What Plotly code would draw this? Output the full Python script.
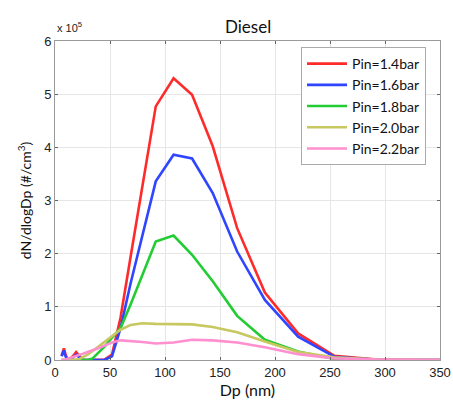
import plotly.graph_objects as go

# Particle diameter (nm)
dp = [6.0, 7.0, 8.1, 9.4, 10.8, 12.5, 14.4, 16.6, 19.2, 22.2, 25.6, 29.6, 34.2, 39.4, 45.0,
      51.8, 59.6, 68.8, 79.4, 91.6, 107.8, 124.6, 143.4, 165.6, 190.8, 221.0, 254.0, 293.0, 340.0, 390.0]

# dN/dlogDp in units of 1e5 #/cm^3
pin_14 = [0.08, 0.15, 0.22, 0.12, 0.04, 0.02, 0.03, 0.08, 0.15, 0.08, 0.0, 0.0, 0.0, 0.0, 0.01,
          0.1, 0.8, 1.95, 3.3, 4.77, 5.30, 4.99, 4.02, 2.48, 1.27, 0.50, 0.08, 0.01, 0.0, 0.0]
pin_16 = [0.07, 0.12, 0.18, 0.08, 0.02, 0.02, 0.02, 0.05, 0.10, 0.05, 0.0, 0.0, 0.0, 0.0, 0.0,
          0.07, 0.6, 1.45, 2.35, 3.36, 3.86, 3.79, 3.14, 2.04, 1.13, 0.44, 0.06, 0.005, 0.0, 0.0]
pin_18 = [0.0, 0.0, 0.0, 0.0, 0.0, 0.0, 0.0, 0.0, 0.0, 0.0, 0.0, 0.0, 0.03, 0.13, 0.25,
          0.42, 0.6, 1.05, 1.6, 2.23, 2.34, 1.98, 1.48, 0.83, 0.38, 0.16, 0.02, 0.0, 0.0, 0.0]
pin_20 = [0.0, 0.0, 0.0, 0.0, 0.01, 0.01, 0.01, 0.01, 0.01, 0.02, 0.05, 0.1, 0.17, 0.25, 0.35,
          0.45, 0.57, 0.66, 0.69, 0.68, 0.67, 0.67, 0.62, 0.52, 0.35, 0.15, 0.05, 0.01, 0.0, 0.0]
pin_22 = [0.0, 0.0, 0.0, 0.01, 0.02, 0.03, 0.04, 0.06, 0.08, 0.1, 0.12, 0.15, 0.18, 0.22, 0.27,
          0.33, 0.37, 0.36, 0.34, 0.31, 0.33, 0.38, 0.37, 0.33, 0.24, 0.11, 0.03, 0.01, 0.0, 0.0]

names = ["Pin=1.4bar", "Pin=1.6bar", "Pin=1.8bar", "Pin=2.0bar", "Pin=2.2bar"]
series = [pin_14, pin_16, pin_18, pin_20, pin_22]
colors = ["#ff2b2b", "#2f45ff", "#22cc33", "#c8c860", "#ff8fcf"]

x_ticks = [0, 50, 100, 150, 200, 250, 300, 350]
y_ticks = [0, 1, 2, 3, 4, 5, 6]

fig = go.Figure()
for n, s, c in zip(names, series, colors):
    fig.add_trace(go.Scatter(x=dp, y=s, mode="lines", name=n,
                             line=dict(color=c, width=2.6)))

sans = "Lato, Open Sans, sans-serif"
label_font = dict(family=sans, size=16, color="#111")
tick_font = dict(family="Liberation Sans, Arial, sans-serif", size=13, color="#222")

fig.update_layout(
    width=453, height=402,
    margin=dict(l=55, r=13, t=41, b=42),
    paper_bgcolor="white", plot_bgcolor="white",
    showlegend=True,
    legend=dict(x=0.639, y=0.981, xanchor="left", yanchor="top",
                bgcolor="white", bordercolor="#aaaaaa", borderwidth=1,
                font=dict(family=sans, size=14, color="#111"),
                tracegroupgap=0, itemwidth=40),
    xaxis=dict(range=[0, 350], tickvals=x_ticks, ticktext=[str(v) for v in x_ticks],
               automargin=False,
               showgrid=True, gridcolor="#e6e6e6", gridwidth=1, zeroline=False,
               showline=True, linecolor="#9a9a9a", linewidth=1, mirror="ticks",
               ticks="inside", ticklen=3, tickcolor="#666",
               tickfont=tick_font,
               title=dict(text="Dp (nm)", font=label_font, standoff=3)),
    yaxis=dict(range=[0, 6], tickvals=y_ticks, ticktext=[str(v) for v in y_ticks],
               automargin=False,
               showgrid=True, gridcolor="#e6e6e6", gridwidth=1, zeroline=False,
               showline=True, linecolor="#9a9a9a", linewidth=1, mirror="ticks",
               ticks="inside", ticklen=3, tickcolor="#666",
               tickfont=tick_font,
               title=dict(text="dN/dlogDp (#/cm<sup>3</sup>)",
                          font=dict(family=sans, size=14, color="#111"), standoff=9)),
    annotations=[
        dict(text="Diesel", xref="paper", yref="paper", x=0.5, y=1.0,
             xanchor="center", yanchor="bottom", yshift=2, showarrow=False,
             font=dict(family=sans, size=17, color="#111")),
        dict(text="x 10<sup>5</sup>", xref="paper", yref="paper",
             x=0.0, y=1.0, xanchor="left", yanchor="bottom", yshift=5, showarrow=False,
             font=dict(family="Liberation Sans, Arial, sans-serif", size=11, color="#222")),
    ],
)

# remove the page's default body margin so the 453x402 figure fills the window exactly
fig.write_html("out.html", config={"displayModeBar": False},
               post_script="document.body.style.margin='0';document.body.style.overflow='hidden';")
